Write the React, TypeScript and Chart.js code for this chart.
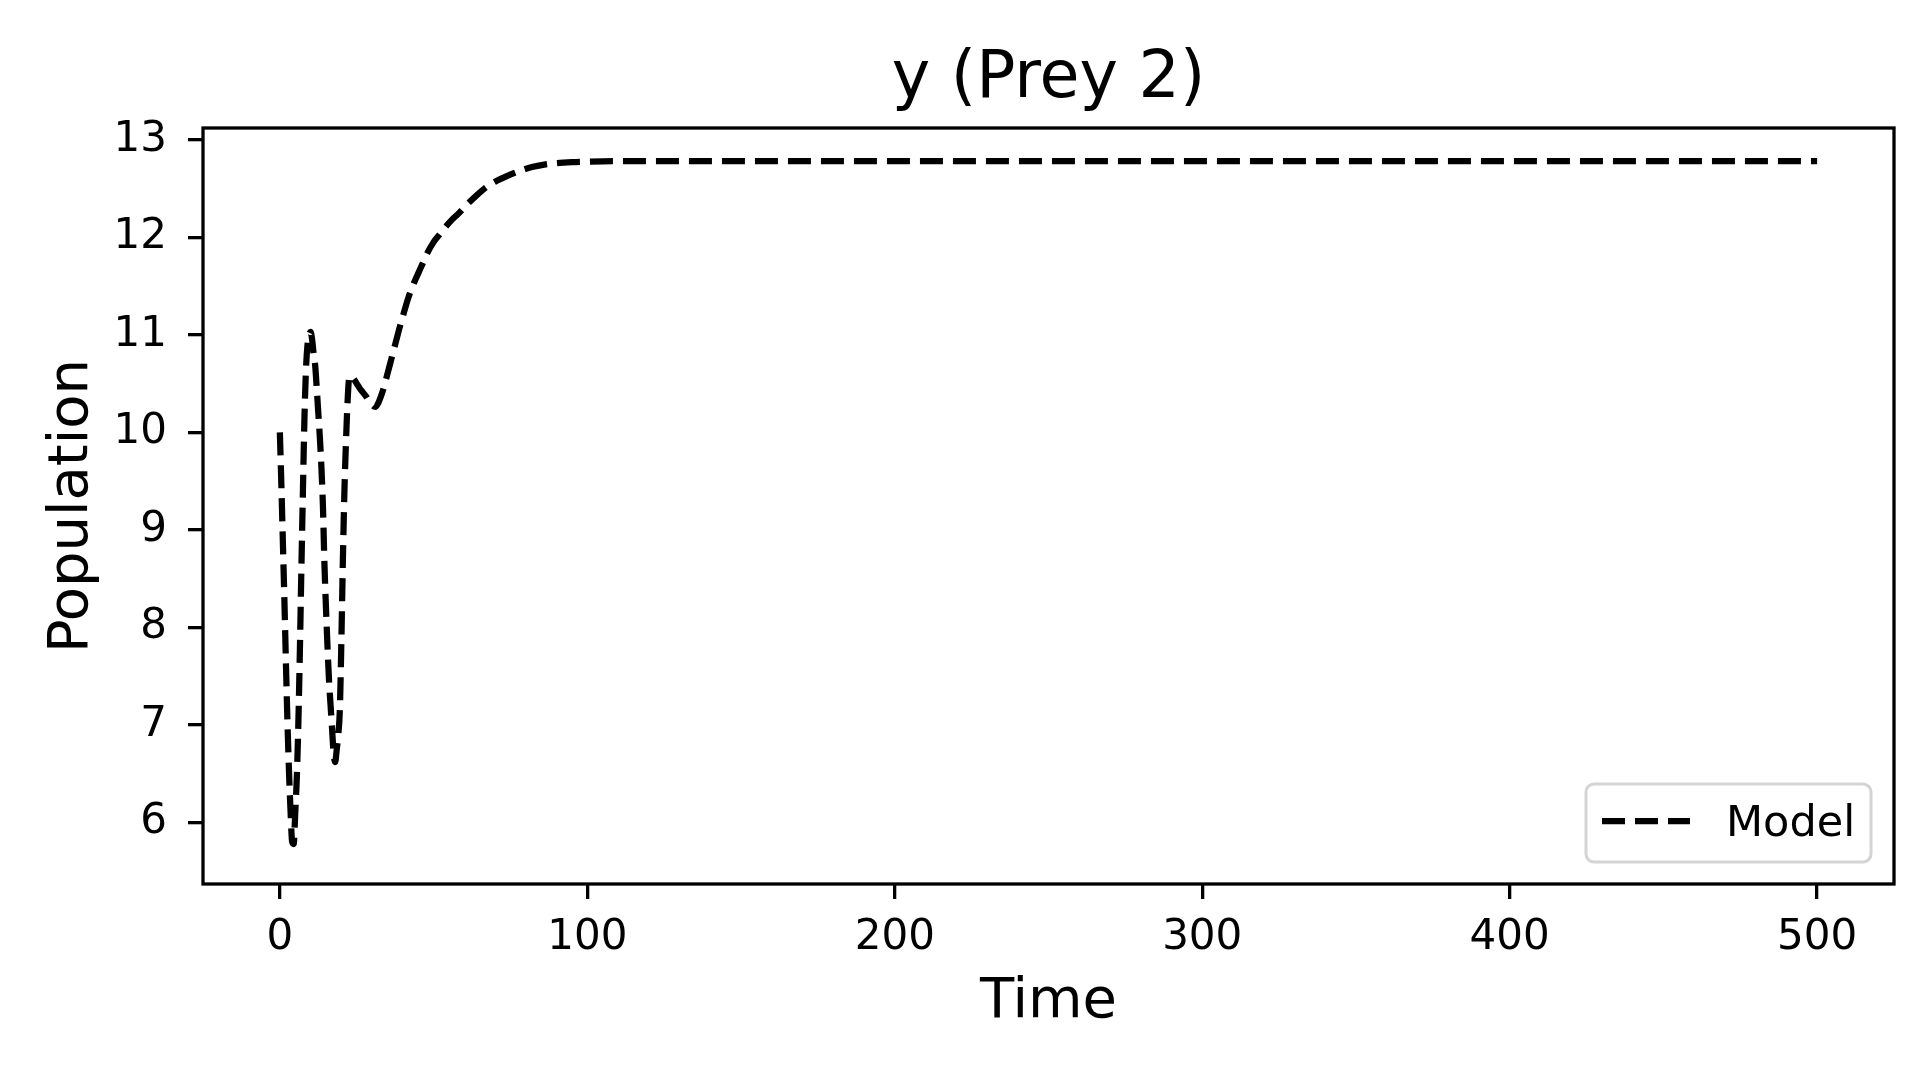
import { useEffect, useRef } from "react";
import { Chart, registerables } from "chart.js";

Chart.register(...registerables);

// model output
const time = [
  0, 0.5, 1, 1.5, 2, 2.5, 3, 3.5, 4, 4.5, 5, 5.5, 6, 6.5, 7, 7.5, 8, 8.5, 9,
  9.5, 10, 10.5, 11, 11.5, 12, 12.5, 13, 13.5, 14, 14.5, 15, 15.5, 16, 16.5, 17,
  17.5, 18, 18.5, 19, 19.5, 20, 20.5, 21, 21.5, 22, 22.5, 23, 24, 25, 26, 27, 28,
  29, 30, 31, 32, 33, 34, 35, 36, 37, 38, 39, 40, 41, 42, 43, 44, 45, 46, 47, 48,
  50, 52, 54, 56, 58, 61, 64, 67, 70, 74, 78, 82, 86, 90, 95, 100, 110, 120, 140,
  170, 200, 250, 300, 350, 400, 450, 500,
];
const population = [
  10.0, 9.45, 8.85, 8.25, 7.6, 7.0, 6.5, 6.1, 5.8, 5.78, 6.1, 6.45, 7.0, 7.75,
  8.6, 9.4, 10.15, 10.65, 10.9, 11.0, 11.03, 10.95, 10.8, 10.68, 10.45, 10.2,
  9.95, 9.65, 9.25, 8.65, 8.2, 7.8, 7.45, 7.2, 6.95, 6.7, 6.62, 6.75, 6.9, 7.15,
  7.85, 8.7, 9.4, 9.9, 10.3, 10.55, 10.58, 10.55, 10.5, 10.45, 10.41, 10.37,
  10.32, 10.28, 10.26, 10.3, 10.38, 10.48, 10.6, 10.72, 10.84, 10.96, 11.08,
  11.19, 11.3, 11.4, 11.48, 11.56, 11.63, 11.7, 11.77, 11.84, 11.95, 12.03,
  12.11, 12.18, 12.24, 12.34, 12.43, 12.51, 12.57, 12.63, 12.68, 12.72, 12.745,
  12.76, 12.77, 12.775, 12.78, 12.78, 12.78, 12.78, 12.78, 12.78, 12.78, 12.78,
  12.78, 12.78, 12.78,
];
const xTicks = [0, 100, 200, 300, 400, 500];
const yTicks = [6, 7, 8, 9, 10, 11, 12, 13];
const seriesLabel = "Model";
const chartTitle = "y (Prey 2)";
const xTitle = "Time";
const yTitle = "Population";

const FONT = "'DejaVu Sans', sans-serif";

// matplotlib-like box around the axes
const framePlugin = {
  id: "frame",
  afterDatasetsDraw(chart: any) {
    const { ctx, chartArea: a } = chart;
    ctx.save();
    ctx.strokeStyle = "#000";
    ctx.lineWidth = 3.3;
    ctx.strokeRect(a.left, a.top, a.right - a.left, a.bottom - a.top);
    ctx.restore();
  },
};

// legend box in the lower right corner of the plot
const innerLegend = {
  id: "innerLegend",
  afterDraw(chart: any) {
    const { ctx, chartArea: a } = chart;
    const ds = chart.data.datasets[0];
    const w = 285;
    const h = 78;
    const x = a.right - 23 - w;
    const y = a.bottom - 22 - h;
    ctx.save();
    ctx.beginPath();
    ctx.roundRect(x, y, w, h, 8);
    ctx.fillStyle = "rgba(255,255,255,0.8)";
    ctx.fill();
    ctx.strokeStyle = "#d4d4d4";
    ctx.lineWidth = 3;
    ctx.stroke();

    ctx.beginPath();
    ctx.setLineDash(ds.borderDash);
    ctx.lineWidth = ds.borderWidth;
    ctx.strokeStyle = ds.borderColor;
    ctx.lineCap = "butt";
    ctx.moveTo(x + 16, y + 37);
    ctx.lineTo(x + 104, y + 37);
    ctx.stroke();
    ctx.setLineDash([]);

    ctx.fillStyle = "#000";
    ctx.font = `43px ${FONT}`;
    ctx.textBaseline = "alphabetic";
    ctx.textAlign = "left";
    ctx.fillText(ds.label, x + 140, y + 52);
    ctx.restore();
  },
};

export default function App() {
  const chartRef = useRef<HTMLCanvasElement>(null);

  useEffect(() => {
    document.body.style.margin = "0";
    document.body.style.overflow = "hidden";
    if (!chartRef.current) return;
    const ctx = chartRef.current.getContext("2d");
    if (!ctx) return;

    const tickFont = { family: FONT, size: 42 };
    const labelFont = { family: FONT, size: 56 };

    const chart = new Chart(ctx, {
      type: "line",
      data: {
        datasets: [
          {
            label: seriesLabel,
            data: time.map((t, i) => ({ x: t, y: population[i] })),
            borderColor: "#000",
            borderWidth: 6.25,
            borderDash: [23, 10],
            borderCapStyle: "butt",
            pointRadius: 0,
            fill: false,
            cubicInterpolationMode: "monotone",
          },
        ],
      },
      options: {
        responsive: false,
        devicePixelRatio: 1,
        animation: false,
        layout: { padding: { left: 0, right: 26, top: 0, bottom: 0 } },
        plugins: {
          legend: { display: false },
          tooltip: { enabled: false },
          title: {
            display: true,
            text: chartTitle,
            fullSize: false,
            color: "#000",
            font: { family: FONT, size: 65, weight: "normal" },
            padding: { top: 41.5, bottom: 8.5 },
          },
        },
        scales: {
          x: {
            type: "linear",
            min: -25,
            max: 525,
            afterBuildTicks: (s: any) => {
              s.ticks = xTicks.map((v) => ({ value: v }));
            },
            afterFit: (s: any) => {
              s.height = 196;
            },
            ticks: { font: tickFont, color: "#000", padding: 13.5, maxRotation: 0 },
            grid: {
              drawOnChartArea: false,
              drawTicks: true,
              tickLength: 15,
              color: "#000",
              lineWidth: 3.3,
            },
            border: { display: false },
            title: {
              display: true,
              text: xTitle,
              color: "#000",
              font: labelFont,
              padding: { top: 0, bottom: 44 },
            },
          },
          y: {
            type: "linear",
            min: 5.37,
            max: 13.12,
            afterBuildTicks: (s: any) => {
              s.ticks = yTicks.map((v) => ({ value: v }));
            },
            afterFit: (s: any) => {
              s.width = 203;
            },
            ticks: { font: tickFont, color: "#000", padding: 21 },
            grid: {
              drawOnChartArea: false,
              drawTicks: true,
              tickLength: 15,
              color: "#000",
              lineWidth: 3.3,
            },
            border: { display: false },
            title: {
              display: true,
              text: yTitle,
              color: "#000",
              font: labelFont,
              padding: { top: 39, bottom: 0 },
            },
          },
        },
      },
      plugins: [framePlugin, innerLegend],
    });

    return () => {
      chart.destroy();
    };
  }, []);

  return (
    <div style={{ position: "absolute", left: 0, top: 0, width: 1920, height: 1080 }}>
      <canvas ref={chartRef} width={1920} height={1080} />
    </div>
  );
}
